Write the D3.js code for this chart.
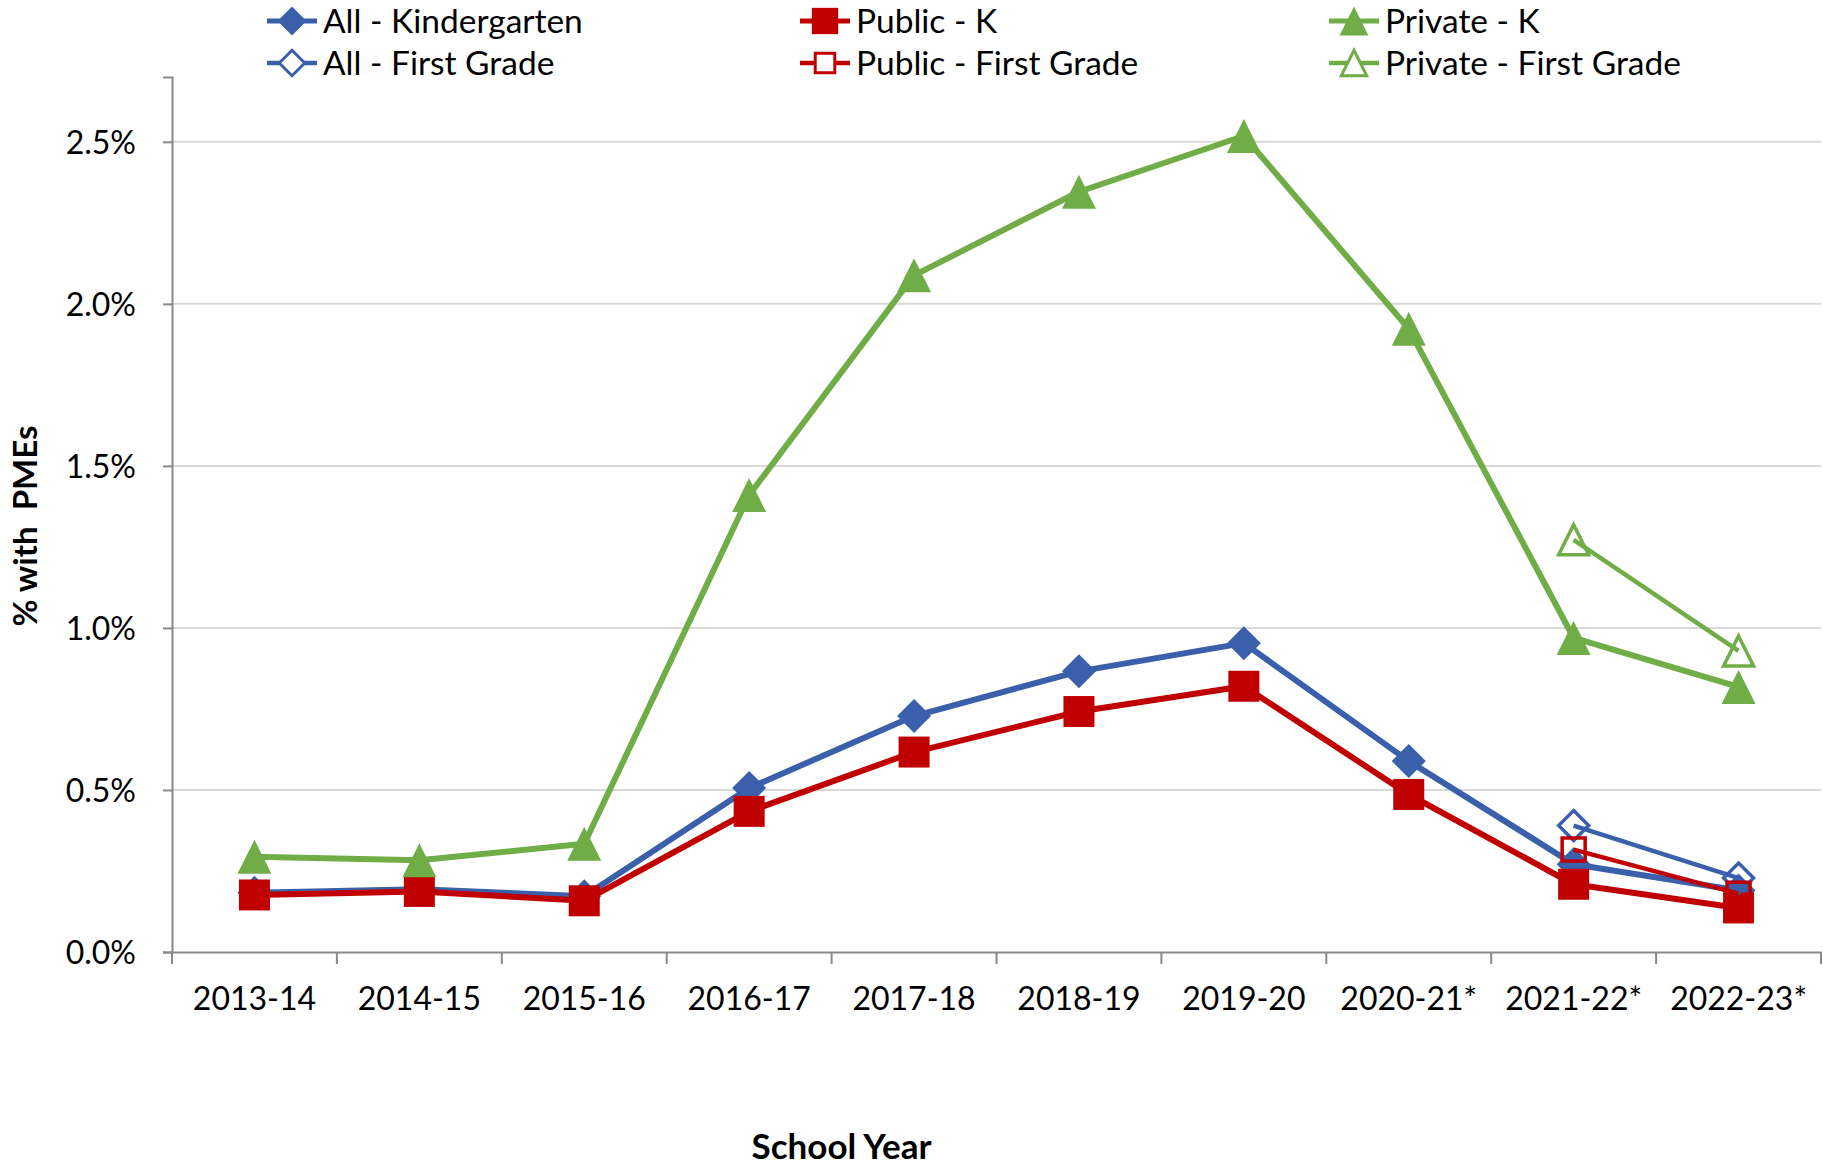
<!DOCTYPE html>
<html>
<head>
<meta charset="utf-8">
<script src="https://cdn.jsdelivr.net/npm/d3@7"></script>
<style>
  body { margin: 0; background: #fff; }
  text { font-family: Lato, "Open Sans", sans-serif; fill: #000; }
</style>
</head>
<body>
<div id="chart"></div>
<script>
// school years on the x axis
const years = ["2013-14", "2014-15", "2015-16", "2016-17", "2017-18", "2018-19", "2019-20", "2020-21*", "2021-22*", "2022-23*"];

// % with PMEs, kindergarten
const allK = [0.183, 0.194, 0.172, 0.506, 0.728, 0.866, 0.953, 0.589, 0.271, 0.190];
const publicK = [0.176, 0.187, 0.158, 0.434, 0.617, 0.742, 0.820, 0.486, 0.209, 0.136];
const privateK = [0.294, 0.283, 0.334, 1.410, 2.088, 2.346, 2.518, 1.923, 0.969, 0.818];

// first grade only reported for the last two years
const allFirst = [null, null, null, null, null, null, null, null, 0.390, 0.228];
const publicFirst = [null, null, null, null, null, null, null, null, 0.316, 0.180];
const privateFirst = [null, null, null, null, null, null, null, null, 1.272, 0.929];

const yTicks = [0, 0.5, 1.0, 1.5, 2.0, 2.5];

const width = 1823, height = 1167;
const margin = { top: 77, right: 2, bottom: 215, left: 172 };

const blue = "#3A60AC", red = "#C00000", green = "#70AD47";

// series list, in Excel draw order
const series = [
  { name: "All - Kindergarten", values: allK, color: blue, shape: "diamond", filled: true },
  { name: "Public - K", values: publicK, color: red, shape: "square", filled: true },
  { name: "Private - K", values: privateK, color: green, shape: "triangle", filled: true },
  { name: "All - First Grade", values: allFirst, color: blue, shape: "diamond", filled: false },
  { name: "Public - First Grade", values: publicFirst, color: red, shape: "square", filled: false },
  { name: "Private - First Grade", values: privateFirst, color: green, shape: "triangle", filled: false }
];

const svg = d3.select("#chart").append("svg")
  .attr("width", width)
  .attr("height", height);

const x = d3.scaleBand()
  .domain(years)
  .range([margin.left, width - margin.right])
  .padding(0);

const y = d3.scaleLinear()
  .domain([0, 2.7])
  .range([height - margin.bottom, margin.top]);

// gridlines
svg.append("g")
  .selectAll("line")
  .data(yTicks.filter(d => d > 0))
  .enter()
  .append("line")
  .attr("x1", margin.left)
  .attr("x2", width - margin.right)
  .attr("y1", d => y(d))
  .attr("y2", d => y(d))
  .attr("stroke", "#D9D9D9")
  .attr("stroke-width", 2);

// y axis
const yAxis = svg.append("g")
  .attr("transform", "translate(" + margin.left + ",0)")
  .call(d3.axisLeft(y).tickValues(yTicks).tickSize(9).tickPadding(27)
    .tickFormat(d => d.toFixed(1) + "%"));
yAxis.select(".domain").attr("stroke", "#898989").attr("stroke-width", 2);
yAxis.selectAll(".tick line").attr("stroke", "#898989").attr("stroke-width", 2);
yAxis.selectAll(".tick text").style("font-size", "32px").attr("dy", "0.35em");

// x axis: labels at band centres, ticks on the band edges
const xAxis = svg.append("g")
  .attr("transform", "translate(0," + y(0) + ")")
  .call(d3.axisBottom(x).tickSize(0).tickPadding(35));
xAxis.select(".domain").attr("stroke", "#898989").attr("stroke-width", 2);
xAxis.selectAll(".tick text").style("font-size", "32px");

const edges = years.map(d => x(d)).concat([x(years[years.length - 1]) + x.bandwidth()]);
xAxis.selectAll(".edge")
  .data(edges)
  .enter()
  .append("line")
  .attr("class", "edge")
  .attr("x1", d => d)
  .attr("x2", d => d)
  .attr("y1", 0)
  .attr("y2", 12)
  .attr("stroke", "#898989")
  .attr("stroke-width", 2);

// axis titles
svg.append("text")
  .attr("x", x(years[4]) + 10)
  .attr("y", 1159)
  .attr("text-anchor", "middle")
  .style("font-size", "35px")
  .style("font-weight", "bold")
  .text("School Year");

svg.append("text")
  .attr("transform", "translate(37,526) rotate(-90)")
  .attr("text-anchor", "middle")
  .style("font-size", "33px")
  .style("font-weight", "bold")
  .style("white-space", "pre")
  .text("% with  PMEs");

// marker outlines, centred on the point
function symbolFor(s) {
  if (s.shape == "diamond") {
    const r = s.filled ? 17 : 15;
    return "M0," + (-r) + "L" + r + ",0L0," + r + "L" + (-r) + ",0Z";
  }
  if (s.shape == "square") {
    const h = s.filled ? 15.5 : 11.5;
    return "M" + (-h) + "," + (-h) + "H" + h + "V" + h + "H" + (-h) + "Z";
  }
  const w = s.filled ? 17 : 15, t = s.filled ? 17 : 15;
  return "M0," + (-t) + "L" + w + "," + t + "H" + (-w) + "Z";
}

const line = d3.line()
  .defined(d => d.v != null)
  .x(d => x(d.year) + x.bandwidth() / 2)
  .y(d => y(d.v));

series.forEach(function (s) {

  const pts = years.map((year, i) => ({ year: year, v: s.values[i] }));

  svg.append("path")
    .datum(pts)
    .attr("fill", "none")
    .attr("stroke", s.color)
    .attr("stroke-width", s.filled ? 6 : 4.5)
    .attr("stroke-linejoin", "round")
    .attr("d", line);

  svg.append("g")
    .selectAll("path")
    .data(pts.filter(d => d.v != null))
    .enter()
    .append("path")
    .attr("transform", d => "translate(" + (x(d.year) + x.bandwidth() / 2) + "," + y(d.v) + ")")
    .attr("d", symbolFor(s))
    .attr("fill", s.filled ? s.color : "none")
    .attr("stroke", s.color)
    .attr("stroke-width", s.filled ? 0 : 3.5)
    .attr("stroke-linejoin", "miter");

});

// legend, three columns by two rows
const legendCols = [267, 800, 1329];
const legendRows = [21, 63];

series.forEach(function (s, i) {

  const lx = legendCols[i % 3];
  const ly = legendRows[Math.floor(i / 3)];

  const item = svg.append("g")
    .attr("transform", "translate(" + lx + "," + ly + ")");

  item.append("line")
    .attr("x1", 0)
    .attr("x2", 50)
    .attr("stroke", s.color)
    .attr("stroke-width", s.filled ? 5 : 4.5);

  item.append("path")
    .attr("transform", "translate(25,0) scale(0.85)")
    .attr("d", symbolFor(s))
    .attr("fill", s.filled ? s.color : "#fff")
    .attr("stroke", s.color)
    .attr("stroke-width", s.filled ? 0 : 3.5);

  item.append("text")
    .attr("x", 56)
    .attr("dy", "0.35em")
    .style("font-size", "33.5px")
    .text(s.name);

});
</script>
</body>
</html>
